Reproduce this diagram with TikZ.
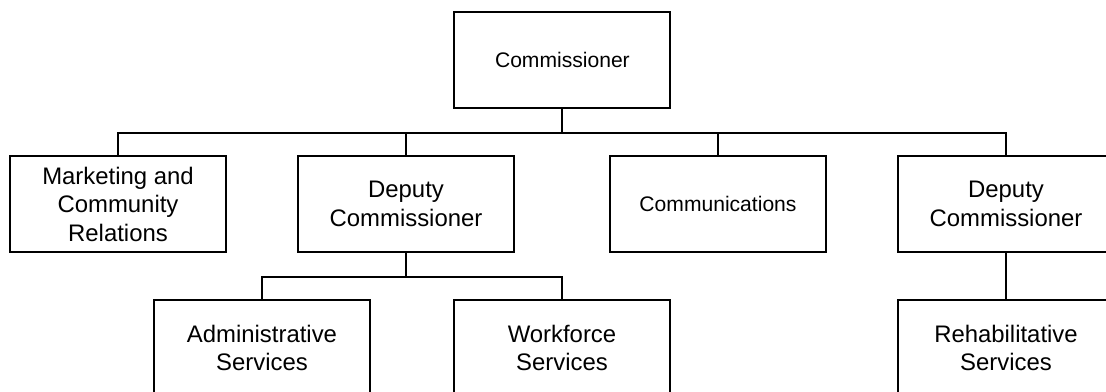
\documentclass[tikz,border=0pt]{standalone}
\usepackage{fontspec}
\setmainfont{Liberation Sans}
\usepackage{tikz}
\usetikzlibrary{calc,positioning}

\begin{document}
\begin{tikzpicture}[node distance=3.6cm,on grid,line width=1.3pt,
    unit/.style={draw,rectangle,minimum width=5.4cm,minimum height=2.4cm,inner sep=0pt,
      align=center,font=\fontsize{17}{20.3}\selectfont},
    small/.style={font=\fontsize{15}{18}\selectfont}]
           \useasboundingbox (0,0) rectangle (27.65,-9.775);
           \node[unit, small] (comm) at (14.06,-1.5) {Commissioner};
           \node[unit] (mark) [below left=3.6cm and 11.11cm of comm] {Marketing and\\Community\\Relations};
           \node[unit] (dep_1) [right=7.2cm of mark] {Deputy\\Commissioner};
           \node[unit, small] (comms) [right=7.8cm of dep_1] {Communications};
           \node[unit] (dep_2) [right=7.2cm of comms] {Deputy\\Commissioner};
           \node[unit] (admin) [below left=3.6cm and 3.6cm of dep_1] {Administrative\\Services};
           \node[unit] (work) [right=7.5cm of admin] {Workforce\\Services};
           \node[unit] (rehab) [below=of dep_2] {Rehabilitative\\Services};
           \draw
            (comm.south) -- ++(0,-0.6) -| (mark.north)
            (comm.south) ++(0,-0.6) -| (dep_1.north)
            (comm.south) ++(0,-0.6) -| (comms.north)
            (comm.south) ++(0,-0.6) -| (dep_2.north)
            (dep_1.south) -- ++(0,-0.6) -| (admin.north)
            (dep_1.south) ++(0,-0.6) -| (work.north)
            (dep_2.south) -- (rehab.north);
        \end{tikzpicture}
\end{document}
